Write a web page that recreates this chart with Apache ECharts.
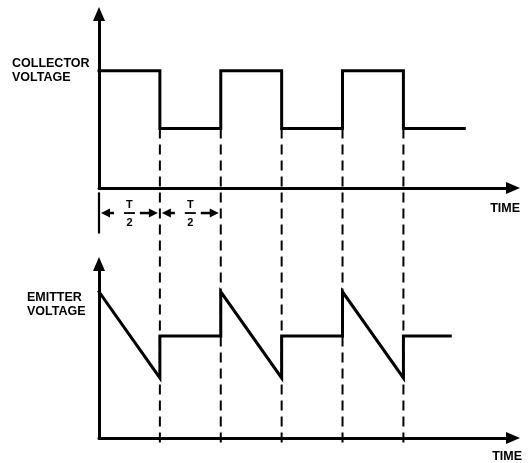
<!DOCTYPE html>
<html>
<head>
<meta charset="utf-8">
<script src="https://cdn.jsdelivr.net/npm/echarts@6/dist/echarts.min.js"></script>
<style>html,body{margin:0;padding:0;background:#fff;}#c{width:530px;height:463px;}</style>
</head>
<body>
<div id="c"></div>
<script>
// Time in units of T/2
var collectorTime  = [0, 1, 1, 2, 2, 3, 3, 4, 4, 5, 5, 6];
var collectorValue = [6.7, 6.7, 3.4, 3.4, 6.7, 6.7, 3.4, 3.4, 6.7, 6.7, 3.4, 3.4];
var emitterTime    = [0, 1, 1, 2, 2, 3, 3, 4, 4, 5, 5, 5.77];
var emitterValue   = [8.35, 3.43, 5.83, 5.83, 8.35, 3.43, 5.83, 5.83, 8.35, 3.43, 5.83, 5.83];
var transitions    = [1, 2, 3, 4, 5];
var halfPeriodStarts = [0, 1];
var halfPeriodLabel = ['T', '2'];
var collectorLabel = 'COLLECTOR\nVOLTAGE';
var emitterLabel   = 'EMITTER\nVOLTAGE';
var timeLabel      = 'TIME';

var LOW = 3.4;        // dashed lines start at collector low level
var DASH_BOTTOM = -14.7;
var ANNOT_Y = -1.43;
var TICK_TOP = -0.25, TICK_BOTTOM = -2.6;

var chart = echarts.init(document.getElementById('c'), null, {renderer: 'canvas'});
var FONT = '"Liberation Sans", Arial, sans-serif';

function axisX(gi) {
  return {
    type: 'value', gridIndex: gi, min: 0, max: 6.80,
    axisLine: {show: true, onZero: false, symbol: ['none', 'triangle'], symbolSize: [12, 14],
      lineStyle: {color: '#000', width: 3}},
    axisTick: {show: false}, axisLabel: {show: false}, splitLine: {show: false}
  };
}
function axisY(gi) {
  return {
    type: 'value', gridIndex: gi, min: 0, max: 9.94,
    axisLine: {show: true, onZero: false, symbol: ['none', 'triangle'], symbolSize: [12, 14],
      lineStyle: {color: '#000', width: 3}},
    axisTick: {show: false}, axisLabel: {show: false}, splitLine: {show: false}
  };
}

var series = [];
transitions.forEach(function (t) {
  series.push({
    type: 'line', xAxisIndex: 0, yAxisIndex: 0, clip: false, symbol: 'none', silent: true,
    data: [[t, LOW], [t, DASH_BOTTOM]],
    lineStyle: {color: '#000', width: 2, type: [10, 6]}, z: 1
  });
});
series.push({
  type: 'line', xAxisIndex: 0, yAxisIndex: 0, clip: false, symbol: 'none', silent: true,
  data: [[0, TICK_TOP], [0, TICK_BOTTOM]],
  lineStyle: {color: '#000', width: 2.2}, z: 2
});
series.push({
  type: 'line', xAxisIndex: 0, yAxisIndex: 0, symbol: 'none', silent: true,
  data: collectorTime.map(function (t, i) { return [t, collectorValue[i]]; }),
  lineStyle: {color: '#000', width: 3, join: 'miter', cap: 'square'}, z: 3
});
series.push({
  type: 'line', xAxisIndex: 1, yAxisIndex: 1, symbol: 'none', silent: true,
  data: emitterTime.map(function (t, i) { return [t, emitterValue[i]]; }),
  lineStyle: {color: '#000', width: 3, join: 'miter', cap: 'square'}, z: 3
});
series.push({
  type: 'custom', xAxisIndex: 0, yAxisIndex: 0, clip: false, silent: true, z: 4,
  data: halfPeriodStarts.map(function (s) { return [s, s + 1]; }),
  renderItem: function (params, api) {
    var a = api.coord([api.value(0), ANNOT_Y]);
    var b = api.coord([api.value(1), ANNOT_Y]);
    var xs = a[0], xe = b[0], y = a[1], xc = (xs + xe) / 2;
    var st = {stroke: '#000', lineWidth: 2.5};
    return {
      type: 'group',
      children: [
        {type: 'polygon', shape: {points: [[xs + 2, y], [xs + 11, y - 4.5], [xs + 11, y + 4.5]]}, style: {fill: '#000'}},
        {type: 'line', shape: {x1: xs + 10, y1: y, x2: xs + 15, y2: y}, style: st},
        {type: 'line', shape: {x1: xe - 20, y1: y, x2: xe - 10, y2: y}, style: st},
        {type: 'polygon', shape: {points: [[xe - 2, y], [xe - 11, y - 4.5], [xe - 11, y + 4.5]]}, style: {fill: '#000'}},
        {type: 'line', shape: {x1: xc - 5.5, y1: y, x2: xc + 5.5, y2: y}, style: {stroke: '#000', lineWidth: 1.8}},
        {type: 'text', style: {text: halfPeriodLabel[0], x: xc, y: y - 8, align: 'center', verticalAlign: 'middle',
          font: 'bold 11px ' + FONT, fill: '#000'}},
        {type: 'text', style: {text: halfPeriodLabel[1], x: xc, y: y + 10, align: 'center', verticalAlign: 'middle',
          font: 'bold 11px ' + FONT, fill: '#000'}}
      ]
    };
  }
});

chart.setOption({
  backgroundColor: '#fff',
  animation: false,
  grid: [
    {left: 99, top: 14, width: 414, height: 174},
    {left: 99, top: 264, width: 414, height: 174}
  ],
  xAxis: [axisX(0), axisX(1)],
  yAxis: [axisY(0), axisY(1)],
  graphic: [
    {type: 'text', left: 12, top: 57, style: {text: collectorLabel, font: 'bold 12.5px ' + FONT, lineHeight: 14, fill: '#000'}},
    {type: 'text', left: 27, top: 291, style: {text: emitterLabel, font: 'bold 12.5px ' + FONT, lineHeight: 14, fill: '#000'}},
    {type: 'text', right: 10, top: 202, style: {text: timeLabel, font: 'bold 12.5px ' + FONT, fill: '#000'}},
    {type: 'text', right: 8, top: 450, style: {text: timeLabel, font: 'bold 12.5px ' + FONT, fill: '#000'}}
  ],
  series: series
});
</script>
</body>
</html>
